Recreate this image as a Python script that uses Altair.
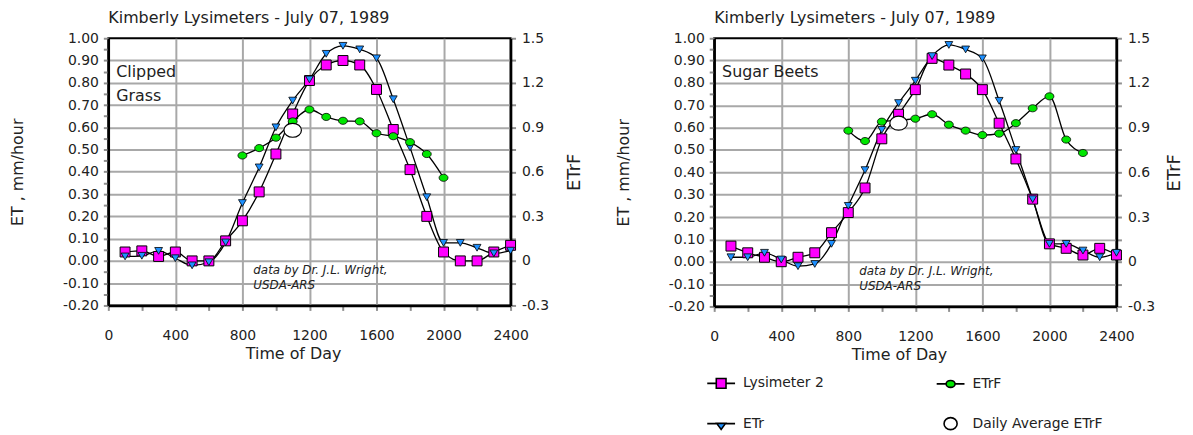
import altair as alt
import pandas as pd

# ---------------- data ----------------
TIME = [100 * i for i in range(1, 25)]
SERIES = ["Lysimeter 2", "ETr", "ETrF", "Daily Average ETrF"]

GRASS_LYS = [0.04, 0.045, 0.02, 0.04, 0.0, 0.0, 0.09, 0.18, 0.31, 0.48, 0.66, 0.81,
             0.88, 0.90, 0.88, 0.77, 0.59, 0.41, 0.20, 0.04, 0.0, 0.0, 0.04, 0.07]
GRASS_ETR = [0.02, 0.023, 0.045, 0.012, -0.02, -0.006, 0.083, 0.26, 0.42, 0.60, 0.72, 0.815,
             0.93, 0.966, 0.95, 0.91, 0.726, 0.51, 0.286, 0.081, 0.081, 0.059, 0.034, 0.046]
GRASS_ETRF_TIME = [800, 900, 1000, 1100, 1200, 1300, 1400, 1500, 1600, 1700, 1800, 1900, 2000]
GRASS_ETRF = [0.71, 0.76, 0.83, 0.94, 1.02, 0.97, 0.944, 0.94, 0.86, 0.84, 0.80, 0.72, 0.56]
GRASS_AVG_TIME = [1100]
GRASS_AVG = [0.88]

BEET_LYS = [0.07, 0.04, 0.02, 0.0, 0.02, 0.04, 0.13, 0.22, 0.33, 0.55, 0.66, 0.77,
            0.91, 0.88, 0.84, 0.77, 0.62, 0.46, 0.28, 0.08, 0.06, 0.03, 0.06, 0.03]
BEET_ETR = [0.02, 0.02, 0.04, 0.01, -0.02, -0.01, 0.08, 0.25, 0.41, 0.59, 0.71, 0.81,
            0.92, 0.97, 0.95, 0.91, 0.72, 0.50, 0.28, 0.08, 0.08, 0.05, 0.02, 0.04]
BEET_ETRF_TIME = [800, 900, 1000, 1100, 1200, 1300, 1400, 1500, 1600, 1700, 1800, 1900, 2000, 2100, 2200]
BEET_ETRF = [0.88, 0.81, 0.94, 0.95, 0.96, 0.99, 0.92, 0.88, 0.85, 0.86, 0.93, 1.03, 1.11, 0.82, 0.73]
BEET_AVG_TIME = [1100]
BEET_AVG = [0.93]

PANEL_TITLE = "Kimberly Lysimeters - July 07, 1989"
X_TITLE = "Time of Day"
Y_LEFT_TITLE = "ET , mm/hour"
Y_RIGHT_TITLE = "ETrF"

GRASS_LABEL = ["Clipped", "Grass"]
GRASS_LABEL_T = [47, 47]
GRASS_LABEL_Y = [0.85, 0.74]
BEET_LABEL = ["Sugar Beets"]
BEET_LABEL_T = [47]
BEET_LABEL_Y = [0.85]
NOTE = ["data by Dr. J.L. Wright,", "USDA-ARS"]
NOTE_T = [865, 865]
NOTE_Y = [-0.04, -0.107]

X_TICKS = list(range(0, 2401, 200))
YL_TICKS = [round(-0.2 + 0.05 * i, 2) for i in range(25)]
YR_TICKS = [round(-0.3 + 0.15 * i, 2) for i in range(13)]

FONT = "DejaVu Sans"
TXT = "#222222"
MAGENTA = "#ff00ff"
BLUE = "#1e90ff"
GREEN = "#00e600"

ELLIPSE = "M-1,0A1,0.8 0 1,1 1,0A1,0.8 0 1,1 -1,0Z"
LEG_SHAPES = [
    "M-1,0H-0.35M0.35,0H1M-0.35,-0.35H0.35V0.35H-0.35Z",
    "M-1,0H-0.32M0.32,0H1M-0.32,-0.02H0.32L0,0.42Z",
    "M-1,0H-0.32M0.32,0H1M-0.32,0A0.32,0.25 0 1,1 0.32,0A0.32,0.25 0 1,1 -0.32,0Z",
    "M-0.47,0A0.47,0.43 0 1,1 0.47,0A0.47,0.43 0 1,1 -0.47,0Z",
]
LEG_FILLS = [MAGENTA, BLUE, GREEN, "white"]

MINUS = "\u2212"

X_AXIS = alt.Axis(
    values=X_TICKS,
    labelExpr="datum.value % 400 == 0 ? format(datum.value, 'd') : ''",
    grid=True,
    gridOpacity={"condition": {"test": "datum.value % 400 == 0 && datum.value > 0 && datum.value < 2400", "value": 1}, "value": 0},
    labelPadding=18,
    labelOverlap=False,
    labelFlush=False,
    title=X_TITLE,
    titleX=186,
    titlePadding=3,
)
YL_AXIS = alt.Axis(
    orient="left",
    values=YL_TICKS,
    labelExpr="abs(round(datum.value*20)) % 2 == 0 ? replace(format(datum.value, '.2f'), '" + MINUS + "', '-') : ''",
    grid=True,
    gridOpacity={"condition": {"test": "abs(round(datum.value*20)) % 2 == 0 && datum.value > -0.19 && datum.value < 0.99", "value": 1}, "value": 0},
    labelPadding=5,
    labelOverlap=False,
    labelFlush=False,
    title=Y_LEFT_TITLE,
    titlePadding=37,
)


def yr_axis(title_padding):
    return alt.Axis(
        orient="right",
        values=YR_TICKS,
        labelExpr="abs(round(datum.value/0.15)) % 2 == 0 ? replace(format(datum.value, '~g'), '" + MINUS + "', '-') : ''",
        grid=False,
        labelPadding=6,
        labelOverlap=False,
        labelFlush=False,
        title=Y_RIGHT_TITLE,
        titleAngle=270,
        titleFontSize=18,
        titlePadding=title_padding,
    )


def panel(lys, etr, etrf_t, etrf, avg_t, avg, lab, lab_t, lab_y, height, with_legend, r_pad):
    xenc = alt.X("time:Q", scale=alt.Scale(domain=[0, 2400], nice=False, zero=False), axis=X_AXIS)
    yl = alt.Y("value:Q", scale=alt.Scale(domain=[-0.2, 1.0], nice=False, zero=False), axis=YL_AXIS)
    yr = alt.Y("value:Q", scale=alt.Scale(domain=[-0.3, 1.5], nice=False, zero=False), axis=yr_axis(r_pad))

    df_lys = pd.DataFrame({"time": TIME, "value": lys})
    df_etr = pd.DataFrame({"time": TIME, "value": etr})
    df_f = pd.DataFrame({"time": etrf_t, "value": etrf})
    df_avg = pd.DataFrame({"time": avg_t, "value": avg})
    df_lab = pd.DataFrame({"time": lab_t, "value": lab_y, "text": lab})
    df_note = pd.DataFrame({"time": NOTE_T, "value": NOTE_Y, "text": NOTE})

    line = dict(color="black", strokeWidth=1.3, interpolate="monotone")
    lys_line = alt.Chart(df_lys).mark_line(**line).encode(x=xenc, y=yl)
    etr_line = alt.Chart(df_etr).mark_line(**line).encode(x=xenc, y=yl)
    lys_pts = alt.Chart(df_lys).mark_point(shape="square", size=100, filled=True, fill=MAGENTA,
                                           stroke="black", strokeWidth=1, opacity=1).encode(x=xenc, y=yl)
    etr_pts = alt.Chart(df_etr).mark_point(shape="triangle-down", size=62, filled=True, fill=BLUE,
                                           stroke="black", strokeWidth=0.8, opacity=1).encode(x=xenc, y=yl)
    labels = alt.Chart(df_lab).mark_text(align="left", baseline="middle", font=FONT, fontSize=16,
                                         color=TXT).encode(x=xenc, y=yl, text="text:N")
    notes = alt.Chart(df_note).mark_text(align="left", baseline="middle", font=FONT, fontSize=12,
                                         fontStyle="italic", color=TXT).encode(x=xenc, y=yl, text="text:N")
    left_layers = [lys_line, etr_line, lys_pts, etr_pts, labels, notes]

    if with_legend:
        df_leg = pd.DataFrame({
            "time": [TIME[0], TIME[0], etrf_t[0], avg_t[0]],
            "value": [lys[0], etr[0], 0.0, 0.0],
            "series": SERIES,
        })
        leg = alt.Legend(orient="none", legendX=-8, legendY=332, columns=2, columnPadding=109,
                         rowPadding=17, labelOffset=7, symbolSize=784, symbolOpacity=1,
                         symbolStrokeColor="black", symbolStrokeWidth=1.6, labelFont=FONT,
                         labelFontSize=14, labelColor=TXT, padding=0, title=None)
        legend_layer = alt.Chart(df_leg).mark_point(filled=True, opacity=0, size=784, strokeWidth=1.6,
                                                    clip=True).encode(
            x=xenc, y=yl,
            shape=alt.Shape("series:N", scale=alt.Scale(domain=SERIES, range=LEG_SHAPES), legend=leg),
            fill=alt.Fill("series:N", scale=alt.Scale(domain=SERIES, range=LEG_FILLS), legend=leg),
            stroke=alt.Stroke("series:N", scale=alt.Scale(domain=SERIES, range=["black"] * 4), legend=leg),
        )
        left_layers.append(legend_layer)

    left_group = alt.layer(*left_layers)

    f_line = alt.Chart(df_f).mark_line(**line).encode(x=xenc, y=yr)
    f_pts = alt.Chart(df_f).mark_point(shape=ELLIPSE, size=81, filled=True, fill=GREEN, stroke="black",
                                       strokeWidth=0.8, opacity=1).encode(x=xenc, y=yr)
    avg_pts = alt.Chart(df_avg).mark_point(shape=ELLIPSE, size=310, filled=True, fill="white", stroke="black",
                                           strokeWidth=1.2, opacity=1).encode(x=xenc, y=yr)
    right_group = alt.layer(f_line, f_pts, avg_pts)

    return alt.layer(left_group, right_group).resolve_scale(y="independent").properties(
        width=405, height=height,
        title=alt.TitleParams(PANEL_TITLE, anchor="start", frame="group", font=FONT, fontSize=16,
                              fontWeight="normal", color=TXT, offset=5),
    )


left = panel(GRASS_LYS, GRASS_ETR, GRASS_ETRF_TIME, GRASS_ETRF, GRASS_AVG_TIME, GRASS_AVG,
             GRASS_LABEL, GRASS_LABEL_T, GRASS_LABEL_Y, 269, False, 35)
right = panel(BEET_LYS, BEET_ETR, BEET_ETRF_TIME, BEET_ETRF, BEET_AVG_TIME, BEET_AVG,
              BEET_LABEL, BEET_LABEL_T, BEET_LABEL_Y, 270, True, 29)

chart = alt.hconcat(left, right, spacing=29).resolve_scale(
    shape="independent", fill="independent", stroke="independent"
).properties(
    padding={"left": 0, "top": 0, "right": 0, "bottom": 0}
).configure_view(
    stroke="black", strokeWidth=2
).configure_axis(
    labelFont=FONT, labelFontSize=14, labelColor=TXT,
    titleFont=FONT, titleFontSize=16, titleFontWeight="normal", titleColor=TXT,
    tickColor="#909090", tickWidth=2, tickSize=5,
    domainColor="black", domainWidth=2.5,
    gridColor="#a8a8a8", gridWidth=2,
)

chart.save("out.html", embed_options={"renderer": "svg", "actions": False})
